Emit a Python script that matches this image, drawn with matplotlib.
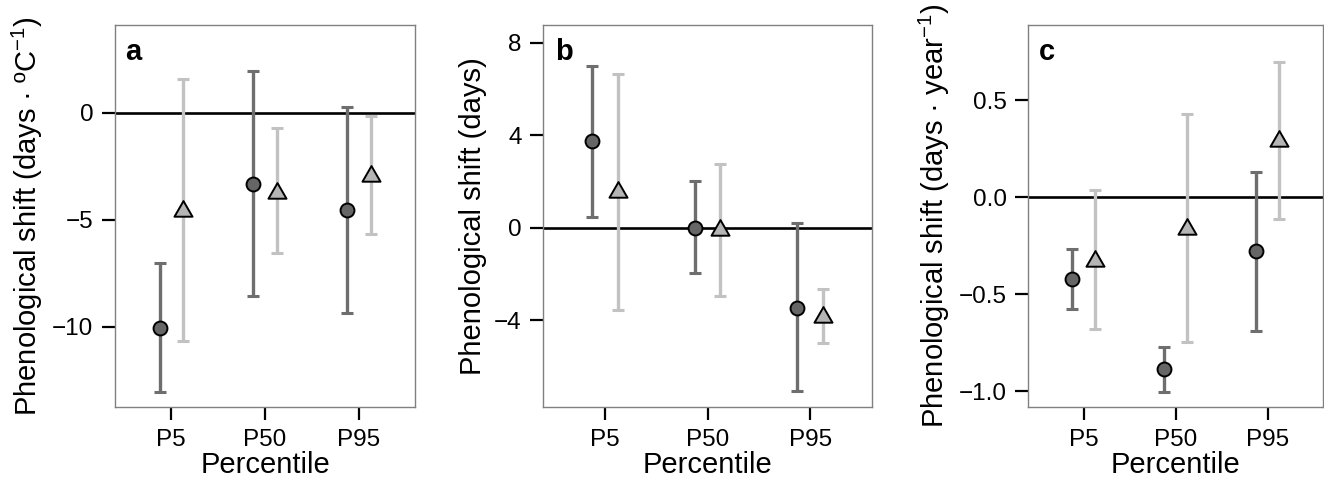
import numpy as np
import matplotlib
matplotlib.use("Agg")
import matplotlib.pyplot as plt
from matplotlib.path import Path

plt.rcParams['font.family'] = ['Liberation Sans', 'DejaVu Sans']
plt.rcParams['mathtext.fontset'] = 'custom'
plt.rcParams['mathtext.rm'] = 'Liberation Sans'
plt.rcParams['mathtext.it'] = 'Liberation Sans:italic'

percentiles = ["P5", "P50", "P95"]

# panel a (days per degree C)
a_circ = [-10.05, -3.33, -4.55]
a_circ_lo = [-13.04, -8.55, -9.37]
a_circ_hi = [-7.04, 1.95, 0.28]
a_tri = [-4.6, -3.75, -2.94]
a_tri_lo = [-10.65, -6.57, -5.68]
a_tri_hi = [1.57, -0.73, -0.14]

# panel b (days)
b_circ = [3.75, 0.0, -3.46]
b_circ_lo = [0.46, -1.94, -7.08]
b_circ_hi = [7.0, 2.02, 0.19]
b_tri = [1.54, -0.11, -3.87]
b_tri_lo = [-3.56, -2.94, -5.0]
b_tri_hi = [6.64, 2.74, -2.63]

# panel c (days per year)
c_circ = [-0.423, -0.886, -0.277]
c_circ_lo = [-0.578, -1.003, -0.688]
c_circ_hi = [-0.267, -0.771, 0.132]
c_tri = [-0.327, -0.164, 0.288]
c_tri_lo = [-0.681, -0.748, -0.112]
c_tri_hi = [0.038, 0.43, 0.70]

panels = [
    ("a", "Phenological shift (days · ºC$^{-1}$)", a_circ, a_circ_lo, a_circ_hi,
     a_tri, a_tri_lo, a_tri_hi, (-13.75, 4.1), [-10, -5, 0], ["\u221210", "\u22125", "0"]),
    ("b", "Phenological shift (days)", b_circ, b_circ_lo, b_circ_hi,
     b_tri, b_tri_lo, b_tri_hi, (-7.75, 8.76), [-4, 0, 4, 8], ["\u22124", "0", "4", "8"]),
    ("c", "Phenological shift (days · year$^{-1}$)", c_circ, c_circ_lo, c_circ_hi,
     c_tri, c_tri_lo, c_tri_hi, (-1.082, 0.889), [-1.0, -0.5, 0.0, 0.5],
     ["\u22121.0", "\u22120.5", "0.0", "0.5"]),
]

positions = [
    [0.0869, 0.1556, 0.2266, 0.7925],
    [0.4104, 0.1556, 0.2480, 0.7925],
    [0.7767, 0.1556, 0.2224, 0.7925],
]

# equilateral triangle centred on its centroid (like R pch 24)
tri_marker = Path([(0, 0.577), (-0.5, -0.289), (0.5, -0.289), (0, 0.577)],
                  [Path.MOVETO, Path.LINETO, Path.LINETO, Path.CLOSEPOLY])

dark = "#6e6e6e"
light = "#c2c2c2"
dodge = 0.125

fig = plt.figure(figsize=(13.24, 4.82), dpi=100)
x = np.arange(1, 4)

for (letter, ylab, circ, clo, chi, tri, tlo, thi, ylim, yt, ytl), pos in zip(panels, positions):
    ax = fig.add_axes(pos)
    ax.axhline(0, color="black", lw=1.9, zorder=1)
    circ = np.array(circ); tri = np.array(tri)
    ax.errorbar(x - dodge, circ, yerr=[circ - np.array(clo), np.array(chi) - circ],
                fmt="none", ecolor=dark, elinewidth=2.4, capsize=4, capthick=2.2, zorder=2)
    ax.errorbar(x + dodge, tri, yerr=[tri - np.array(tlo), np.array(thi) - tri],
                fmt="none", ecolor=light, elinewidth=2.4, capsize=4, capthick=2.2, zorder=2)
    ax.plot(x - dodge, circ, "o", ms=10, mfc="#666666", mec="black", mew=1.4, zorder=3)
    ax.plot(x + dodge, tri, ls="none", marker=tri_marker, ms=15, mfc="#b5b5b5",
            mec="black", mew=1.4, zorder=3)
    ax.set_xlim(0.4, 3.6)
    ax.set_ylim(*ylim)
    ax.set_xticks(x)
    ax.set_xticklabels(percentiles)
    ax.set_yticks(yt)
    ax.set_yticklabels(ytl)
    ax.tick_params(length=9.5, width=1.6, color="black", labelsize=17.5, pad=6)
    for s in ax.spines.values():
        s.set_color("#808080")
        s.set_linewidth(1)
    ax.set_xlabel("Percentile", fontsize=21, labelpad=0)
    ax.set_ylabel(ylab, fontsize=21, labelpad=5)
    ax.text(0.035, 0.965, letter, transform=ax.transAxes, fontsize=21,
            fontweight="bold", va="top", ha="left")

fig.savefig("out.png", dpi=100)
